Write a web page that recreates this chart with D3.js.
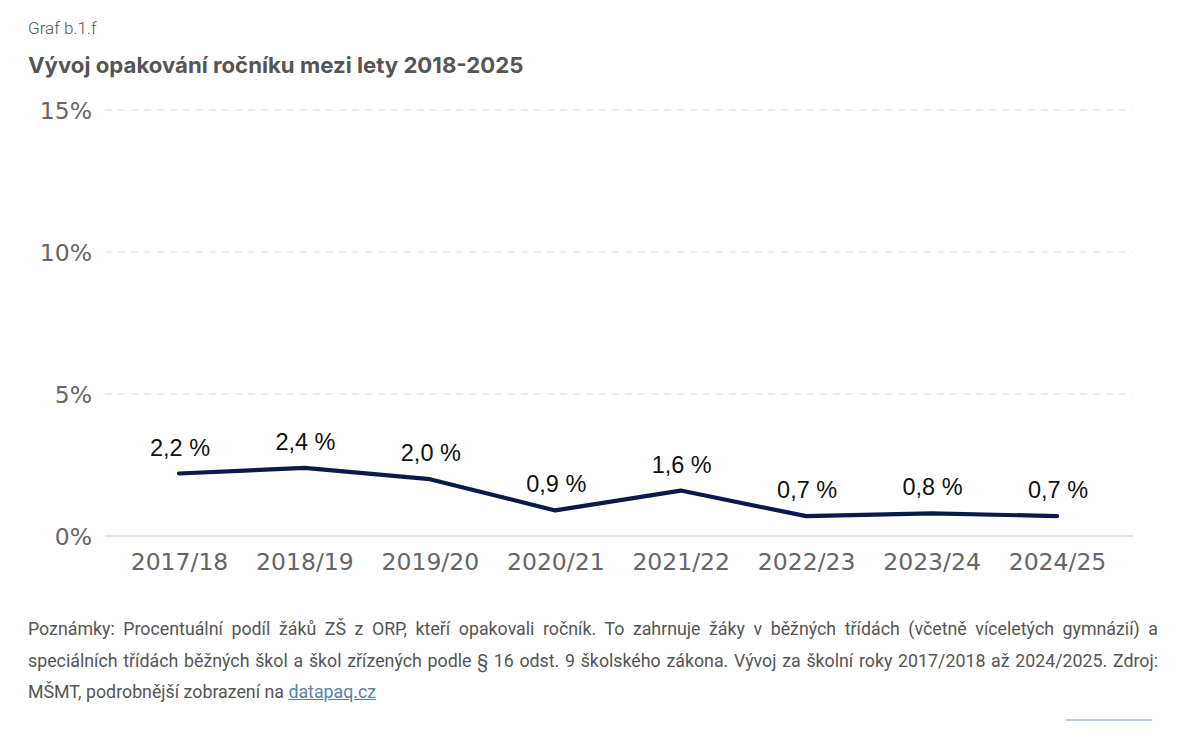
<!doctype html>
<html lang="cs">
<head>
  <meta charset="utf-8">
  <title>Vývoj opakování ročníku</title>
  <style>
    body { margin: 0; background: #fff; }
    #wrap { position: relative; width: 1189px; height: 738px; overflow: hidden; }
    svg { position: absolute; left: 0; top: 0; }
    .notes {
      position: absolute; left: 28px; top: 613px; width: 1130px;
      font-family: "Roboto", "Noto Sans", sans-serif; font-size: 17.8px;
      color: #555; line-height: 31.5px;
    }
    .notes div { text-align: justify; text-align-last: justify; white-space: nowrap; }
    .notes div.last { text-align-last: left; }
    .notes a { color: #5b7fa8; text-decoration: underline; }
  </style>
</head>
<body>
<div id="wrap"></div>
<script src="https://cdn.jsdelivr.net/npm/d3@7"></script>
<script>
(function() {

var years = ["2017/18", "2018/19", "2019/20", "2020/21", "2021/22", "2022/23", "2023/24", "2024/25"];
var values = [2.2, 2.4, 2.0, 0.9, 1.6, 0.7, 0.8, 0.7];
var labels = ["2,2 %", "2,4 %", "2,0 %", "0,9 %", "1,6 %", "0,7 %", "0,8 %", "0,7 %"];
var yTicks = [0, 5, 10, 15];

var W = 1189, H = 738;
var svg = d3.select("#wrap").append("svg").attr("width", W).attr("height", H);

svg.append("text").attr("x", 28).attr("y", 34)
  .style("font-family", "Roboto, sans-serif").style("font-weight", 300)
  .style("font-size", "17px").attr("fill", "#555").text("Graf b.1.f");

svg.append("text").attr("x", 28).attr("y", 73)
  .style("font-family", "Inter, Roboto, sans-serif").style("font-weight", 700)
  .style("font-size", "22.2px").attr("fill", "#555")
  .text("Vývoj opakování ročníku mezi lety 2018-2025");

var x = d3.scalePoint().domain(years).range([179, 1057]);
var y = d3.scaleLinear().domain([0, 15]).range([536, 110]);

// grid
var grid = svg.append("g");
grid.selectAll("line").data(yTicks).enter().append("line")
  .attr("x1", 105).attr("x2", 1133)
  .attr("y1", function(d) { return y(d); })
  .attr("y2", function(d) { return y(d); })
  .attr("stroke", function(d) { return d === 0 ? "#d4d4d4" : "#dcdcdc"; })
  .attr("stroke-width", function(d) { return d === 0 ? 1.5 : 1.2; })
  .attr("stroke-dasharray", function(d) { return d === 0 ? null : "7,6"; });

// y axis labels
var yAxis = svg.append("g").attr("transform", "translate(92,0)")
  .call(d3.axisLeft(y).tickValues(yTicks).tickSize(0).tickPadding(0)
    .tickFormat(function(d) { return d + "%"; }));
yAxis.select(".domain").remove();
yAxis.selectAll("text").style("font-family", "DejaVu Sans, sans-serif")
  .style("font-size", "23.5px").attr("fill", "#666").attr("dy", "0.36em");

// x axis labels
var xAxis = svg.append("g").attr("transform", "translate(0,552)")
  .call(d3.axisBottom(x).tickSize(0).tickPadding(0));
xAxis.select(".domain").remove();
xAxis.selectAll("text").style("font-family", "DejaVu Sans, sans-serif")
  .style("font-size", "23.5px").attr("fill", "#666").attr("dy", "0.75em");

// line
var line = d3.line()
  .x(function(d, i) { return x(years[i]); })
  .y(function(d) { return y(d); });

svg.append("path").datum(values)
  .attr("d", line).attr("fill", "none")
  .attr("stroke", "#0b1a4a").attr("stroke-width", 4.2)
  .attr("stroke-linejoin", "round").attr("stroke-linecap", "round");

// data labels
svg.append("g").selectAll("text").data(values).enter().append("text")
  .attr("x", function(d, i) { return x(years[i]) + 1; })
  .attr("y", function(d) { return y(d) - 18; })
  .attr("text-anchor", "middle")
  .style("font-family", "Liberation Sans, Arial, sans-serif")
  .style("font-size", "23.5px").attr("fill", "#111")
  .text(function(d, i) { return labels[i]; });

// faint clipped line at bottom
svg.append("line").attr("x1", 1066).attr("x2", 1152).attr("y1", 720).attr("y2", 720)
  .attr("stroke", "#7f98b8").attr("stroke-width", 1.2);

var notes = d3.select("#wrap").append("div").attr("class", "notes");
notes.append("div").text("Poznámky: Procentuální podíl žáků ZŠ z ORP, kteří opakovali ročník. To zahrnuje žáky v běžných třídách (včetně víceletých gymnázií) a");
notes.append("div").text("speciálních třídách běžných škol a škol zřízených podle § 16 odst. 9 školského zákona. Vývoj za školní roky 2017/2018 až 2024/2025. Zdroj:");
var last = notes.append("div").attr("class", "last");
last.append("span").text("MŠMT, podrobnější zobrazení na ");
last.append("a").attr("href", "#").text("datapaq.cz");

})();
</script>
</body>
</html>
